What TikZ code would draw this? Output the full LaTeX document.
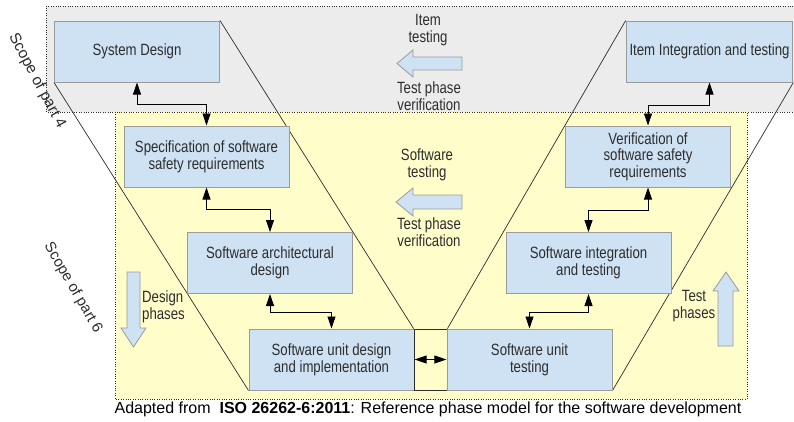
\documentclass[tikz,border=0pt]{standalone}
\usepackage{fontspec}
\setmainfont{Liberation Sans}[FakeStretch=0.81]
\newfontfamily\plainsans{Liberation Sans}
\usetikzlibrary{arrows.meta}
\usetikzlibrary{backgrounds}
\usetikzlibrary{positioning}
\definecolor{boxfill}{RGB}{207,226,243}
\definecolor{boxline}{RGB}{155,155,155}
\definecolor{scopeyellow}{RGB}{255,253,202}
\definecolor{scopegray}{RGB}{236,236,236}
\definecolor{inkgray}{RGB}{45,45,45}

\begin{document}
\begin{tikzpicture}[
    x=1pt, y=-1pt,
    phase/.style={
        draw=boxline,
        fill=boxfill,
        line width=1pt,
        minimum width=165pt,
        minimum height=61pt,
        align=center,
        text=inkgray,
        font=\fontsize{16.3}{16.7}\selectfont
    },
    lbl/.style={
        align=center,
        text=inkgray,
        inner sep=0pt,
        font=\fontsize{16.3}{16.7}\selectfont
    },
    link/.style={
        <->,
        >={Triangle[length=12pt,width=8pt]},
        draw=black,
        line width=0.8pt
    },
    vline/.style={
        draw=inkgray,
        line width=0.7pt
    },
    bigarrow/.style={
        draw=boxline,
        fill=boxfill,
        line width=0.8pt,
        line join=miter
    }
]

    \useasboundingbox (0,0) rectangle (794,421);

    % phases of the V
    \node[phase] (sd)   at (137,51.5)   {System Design};
    \node[phase] (spec) at (206.5,156.5) {Specification of software\\safety requirements};
    \node[phase] (arch) at (270,263)    {Software architectural\\design};
    \node[phase] (ud)   at (331.5,359.5) {Software unit design\\and implementation};
    \node[draw=inkgray, fill=scopeyellow, line width=0.8pt,
          minimum width=33pt, minimum height=61pt] (gap) at (430.5,359.5) {};
    \node[phase] (ut)   at (529.5,359.5) {Software unit\\testing};
    \node[phase] (integ) at (588.5,263) {Software integration\\and testing};
    \node[phase] (ver)  at (648,156.5)  {Verification of\\software safety\\requirements};
    \node[phase] (item) at (709.5,51.5) {Item Integration and testing};

    \begin{scope}[on background layer]
        % scope of part 4 and part 6
        \fill[scopegray] (46,6) rectangle (800,112);
        \draw[dotted, draw=inkgray] (800,6) -- (46,6) -- (46,112) -- (800,112);
        \fill[scopeyellow] (115,112) rectangle (747,399);
        \draw[dotted, draw=inkgray] (115,112) rectangle (747,399);

        % outline of the V
        \draw[vline] (sd.south west) -- (ud.south west);
        \draw[vline] (sd.north east) -- (gap.north west);
        \draw[vline] (gap.north east) -- (item.north west);
        \draw[vline] (ut.south east) -- (item.south east);
    \end{scope}

    % links between the levels
    \draw[link] (sd.south) -- ++(0,22) -| (spec.north);
    \draw[link] (spec.south) -- ++(0,22) -| (arch.north);
    \draw[link] (arch.south) -- ++(0,18) -| (ud.north);
    \draw[link] (integ.south) -- ++(0,18) -| (ut.north);
    \draw[link] (ver.south) -- ++(0,23) -| (integ.north);
    \draw[link] (item.south) -- ++(0,23) -| (ver.north);
    \draw[link, shorten <=1pt, shorten >=1pt] (gap.west) -- (gap.east);

    % verification and phase arrows
    \draw[bigarrow] (397,63.5) -- (413,50) -- (413,57) -- (462,57)
        -- (462,70) -- (413,70) -- (413,77) -- cycle;
    \draw[bigarrow] (396,202) -- (413,188) -- (413,195) -- (462,195)
        -- (462,209) -- (413,209) -- (413,216) -- cycle;
    \draw[bigarrow] (133.5,347) -- (121,328) -- (127,328) -- (127,272)
        -- (140,272) -- (140,328) -- (146,328) -- cycle;
    \draw[bigarrow] (726,272) -- (739,291) -- (733,291) -- (733,346)
        -- (718,346) -- (718,291) -- (713,291) -- cycle;

    \node[lbl] (itemtest) at (428,30) {Item\\testing};
    \node[lbl] (itemver) at (429,96) {Test phase\\verification};
    \node[lbl] (swtest) at (427,165) {Software\\testing};
    \node[lbl] (swver) at (429,232) {Test phase\\verification};
    \node[lbl, align=left, anchor=west] (designlbl) at (142,307) {Design\\phases};
    \node[lbl] (testlbl) at (694,306) {Test\\phases};

    \node[lbl, font=\plainsans\fontsize{15.5}{17}\selectfont, rotate=-62] (part4) at (37,81) {Scope of part 4};
    \node[lbl, font=\plainsans\fontsize{15}{17}\selectfont, rotate=-60] (part6) at (73,288) {Scope of part 6};

    \node[lbl, text=black, font=\plainsans\fontsize{16}{17}\selectfont] (caption) at (428,409)
    {Adapted from\ \ \textbf{ISO 26262-6:2011}: Reference phase model for the software development};

\end{tikzpicture}
\end{document}
